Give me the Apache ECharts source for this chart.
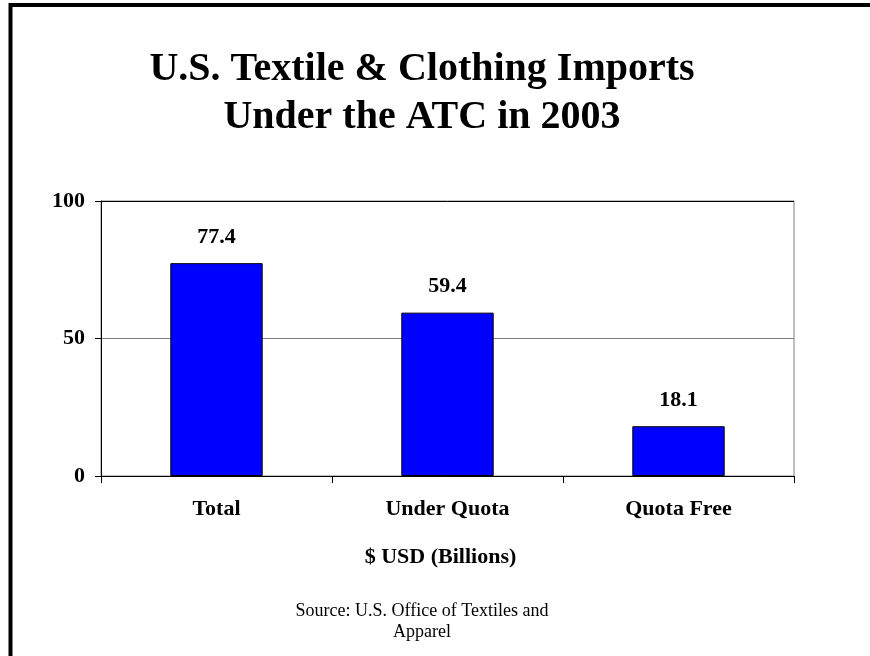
<!DOCTYPE html>
<html>
<head>
<meta charset="utf-8">
<script src="https://cdn.jsdelivr.net/npm/echarts@6/dist/echarts.min.js"></script>
<style>
html,body{margin:0;padding:0;background:#fff;}
#chart{width:870px;height:656px;}
</style>
</head>
<body>
<div id="chart"></div>
<script>
var titleLines = ['U.S. Textile & Clothing Imports', 'Under the ATC in 2003'];
var categories = ['Total', 'Under Quota', 'Quota Free'];
var values = [77.4, 59.4, 18.1];
var yTicks = [0, 50, 100];
var xAxisName = '$ USD (Billions)';
var sourceLines = ['Source: U.S. Office of Textiles and', 'Apparel'];

var FONT = '"Liberation Serif", "Times New Roman", serif';
var chart = echarts.init(document.getElementById('chart'), null, {renderer: 'canvas'});
chart.setOption({
  backgroundColor: '#ffffff',
  animation: false,
  grid: {left: 101, right: 76, top: 201, bottom: 180, show: true, borderColor: '#808080', borderWidth: 1},
  xAxis: {
    type: 'category',
    data: categories,
    axisLine: {lineStyle: {color: '#000', width: 1}},
    axisTick: {show: true, length: 7, lineStyle: {color: '#000'}},
    axisLabel: {color: '#000', fontFamily: FONT, fontWeight: 'bold', fontSize: 22, margin: 22}
  },
  yAxis: {
    type: 'value',
    min: yTicks[0],
    max: yTicks[yTicks.length - 1],
    interval: yTicks[1] - yTicks[0],
    axisLine: {show: true, lineStyle: {color: '#000', width: 1}},
    axisTick: {show: true, length: 6, lineStyle: {color: '#000'}},
    axisLabel: {color: '#000', fontFamily: FONT, fontWeight: 'bold', fontSize: 22, margin: 16},
    splitLine: {show: true, lineStyle: {color: ['#000', '#808080', '#000'], width: 1}}
  },
  series: [{
    type: 'bar',
    data: values,
    barCategoryGap: '60%',
    itemStyle: {color: '#0000FF', borderColor: '#000', borderWidth: 1},
    label: {
      show: true, position: 'top', distance: 15,
      color: '#000', fontFamily: FONT, fontWeight: 'bold', fontSize: 22,
      formatter: function (p) { return p.value.toFixed(1); }
    }
  }],
  graphic: [
    {type: 'rect', shape: {x: 10.5, y: 5, width: 900, height: 700}, style: {fill: 'none', stroke: '#000', lineWidth: 4}, z: 100},
    {type: 'text', style: {text: titleLines.join('\n'), x: 422, y: 46, textAlign: 'center', textVerticalAlign: 'top',
      font: 'bold 40px ' + FONT, lineHeight: 48, fill: '#000'}},
    {type: 'text', style: {text: xAxisName, x: 440.5, y: 557, textAlign: 'center', textVerticalAlign: 'middle',
      font: 'bold 22px ' + FONT, fill: '#000'}},
    {type: 'text', style: {text: sourceLines.join('\n'), x: 422, y: 601, textAlign: 'center', textVerticalAlign: 'top',
      font: '18px ' + FONT, lineHeight: 21, fill: '#000'}}
  ]
});
</script>
</body>
</html>
